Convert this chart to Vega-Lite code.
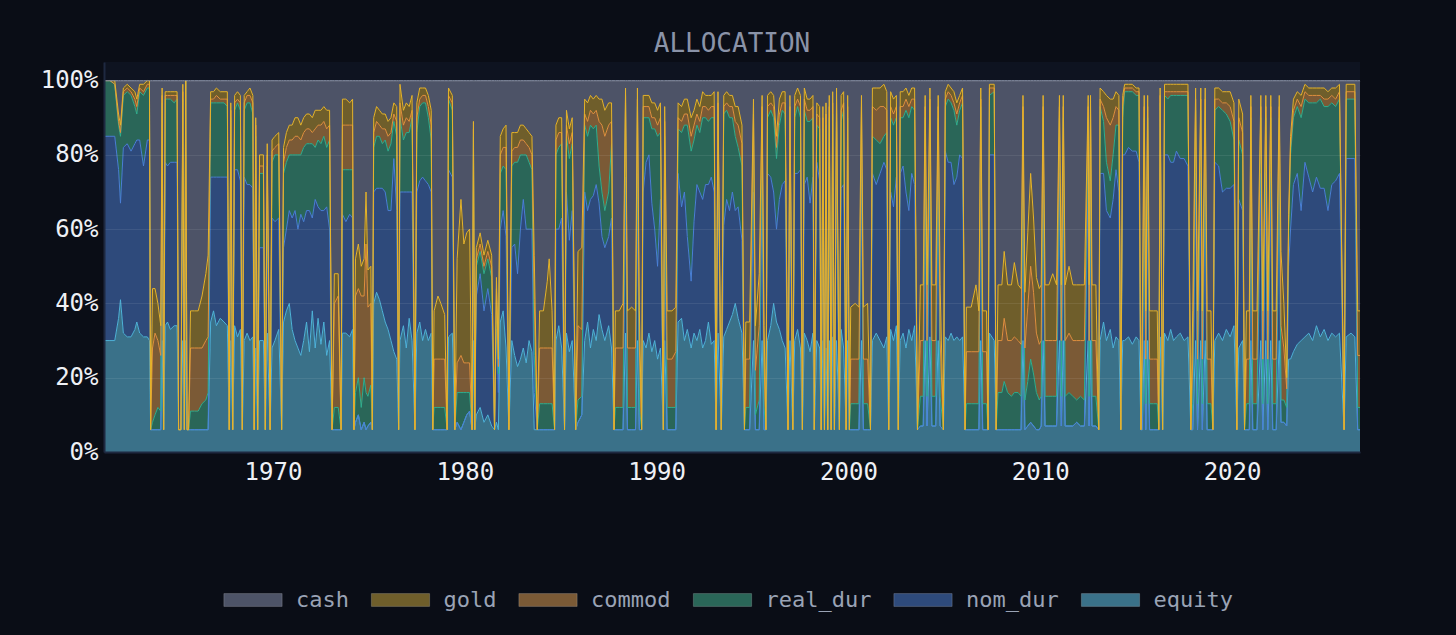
{
  "$schema": "https://vega.github.io/schema/vega-lite/v6.json",
  "width": 1256,
  "height": 390,
  "autosize": {"type": "none"},
  "padding": {"left": 104, "top": 62, "right": 96, "bottom": 183},
  "background": "#0a0d16",
  "title": {"text": "ALLOCATION", "font": "DejaVu Sans Mono", "fontSize": 26, "fontWeight": "normal", "color": "#8a93a8", "offset": 5, "anchor": "middle"},
  "data": {
    "values": "t,equity,nom_dur,real_dur,commod,gold,cash\n1961.2,30,55,15,0,0,0\n1961.5,30,55,15,0,0,0\n1961.75,30,55,14,0,1,0\n1961.95,36,40,12,1,2,9\n1962.05,41,26,18,1,2,12\n1962.2,32,50,14,1,1,2\n1962.4,31,52,14,1,1,1\n1962.6,31,50,15,1,1,2\n1962.8,33,50,10,2,2,3\n1962.9,35,49,7,2,2,5\n1963.05,32,52,13,1,1,1\n1963.25,31,46,19,1,2,1\n1963.45,31,53,14,1,1,0\n1963.56,30,54,14,1,1,0\n1963.62,6,0,0,0,0,94\n1963.72,6,0,2,20,16,56\n1963.85,6,0,4,22,12,56\n1964.0,6,0,6,18,10,60\n1964.15,6,0,5,15,8,66\n1964.22,30,50,14,2,2,2\n1964.3,6,0,0,0,0,94\n1964.38,34,44,17,1,1,3\n1964.5,35,42,18,1,1,3\n1964.65,33,45,17,1,1,3\n1964.85,34,44,16,2,1,3\n1965.0,34,44,17,1,1,3\n1965.08,6,0,0,0,0,94\n1965.2,6,0,0,0,0,94\n1965.3,30,50,15,2,2,1\n1965.38,6,0,0,0,0,94\n1965.45,30,40,30,0,0,0\n1965.52,6,0,0,0,0,94\n1965.6,6,0,0,0,0,94\n1965.7,6,0,5,17,10,62\n1965.9,6,0,5,17,10,62\n1966.1,6,0,5,17,10,62\n1966.3,6,0,7,15,14,58\n1966.5,6,0,8,16,18,52\n1966.62,6,0,10,15,22,47\n1966.75,35,39,20,1,2,3\n1966.9,38,36,20,1,2,3\n1967.05,34,40,20,2,2,2\n1967.25,36,38,20,1,2,3\n1967.45,35,39,20,1,2,3\n1967.62,34,40,19,2,2,3\n1967.72,6,0,0,0,0,94\n1967.8,30,45,15,2,2,6\n1967.9,6,0,0,0,0,94\n1968.0,34,42,16,2,2,4\n1968.15,31,45,18,1,2,3\n1968.3,33,40,19,2,2,4\n1968.4,6,0,0,0,0,94\n1968.5,30,44,18,2,2,4\n1968.65,32,40,22,2,1,3\n1968.8,30,42,22,2,2,2\n1968.95,31,40,20,3,2,4\n1969.02,6,0,0,0,0,94\n1969.1,28,45,12,3,2,10\n1969.2,6,0,0,0,0,94\n1969.3,30,25,20,2,3,20\n1969.5,30,25,20,2,3,20\n1969.6,6,0,0,0,0,94\n1969.7,32,30,15,3,3,17\n1969.85,6,0,0,0,0,94\n1969.95,28,35,15,3,3,16\n1970.1,30,32,18,2,3,15\n1970.3,33,30,17,3,3,14\n1970.45,6,0,0,0,0,94\n1970.55,35,20,20,3,4,18\n1970.7,38,22,18,4,4,14\n1970.85,40,25,15,4,4,12\n1971.0,33,30,17,4,4,12\n1971.15,30,35,15,5,5,10\n1971.3,28,32,20,5,5,10\n1971.45,26,38,16,4,4,12\n1971.6,30,32,20,4,4,10\n1971.75,35,30,18,4,4,9\n1971.9,27,38,18,4,4,9\n1972.05,38,25,20,3,4,10\n1972.2,28,40,14,5,5,8\n1972.35,36,30,18,4,4,8\n1972.5,29,36,18,5,4,8\n1972.65,35,30,20,4,4,7\n1972.8,26,40,16,5,5,8\n1972.95,30,30,24,4,4,8\n1973.08,6,0,0,0,0,94\n1973.2,6,0,6,28,8,52\n1973.4,6,0,6,30,6,52\n1973.55,6,0,0,0,0,94\n1973.62,32,32,12,12,7,5\n1973.8,32,30,14,12,7,5\n1974.0,31,33,12,12,6,6\n1974.15,33,30,13,12,7,5\n1974.22,6,0,0,0,0,94\n1974.3,8,0,8,26,10,48\n1974.45,10,0,10,24,12,44\n1974.6,6,0,6,30,8,50\n1974.75,8,0,12,22,10,48\n1974.85,6,0,10,40,14,30\n1974.95,7,0,8,24,10,51\n1975.1,8,0,10,22,10,50\n1975.18,6,0,0,0,0,94\n1975.25,40,30,12,4,4,10\n1975.4,43,28,14,4,4,7\n1975.55,41,30,14,3,4,8\n1975.7,38,33,12,4,4,9\n1975.85,35,35,14,3,4,9\n1976.0,33,32,16,4,4,11\n1976.15,30,35,18,3,4,10\n1976.3,27,52,10,2,3,6\n1976.45,25,40,20,4,4,7\n1976.55,6,0,0,0,0,94\n1976.62,30,40,20,4,5,1\n1976.8,34,36,14,4,4,8\n1976.95,28,42,16,4,4,6\n1977.1,36,34,16,3,4,7\n1977.25,30,40,20,2,4,4\n1977.4,6,0,0,0,0,94\n1977.5,32,38,16,4,4,6\n1977.65,35,38,20,2,3,2\n1977.8,30,44,20,2,2,2\n1977.95,33,40,21,2,2,2\n1978.1,30,42,18,3,3,4\n1978.25,32,38,14,4,4,8\n1978.33,6,0,0,0,0,94\n1978.4,6,0,6,13,13,62\n1978.6,6,0,6,13,17,58\n1978.75,6,0,6,13,15,60\n1978.95,6,0,6,13,12,63\n1979.08,6,0,0,0,0,94\n1979.15,31,45,19,1,2,2\n1979.35,32,42,18,2,2,4\n1979.48,6,0,0,0,0,94\n1979.6,8,0,8,8,28,48\n1979.8,6,0,10,10,42,32\n1979.95,8,0,8,8,32,44\n1980.1,10,0,6,8,35,41\n1980.25,11,0,5,8,36,40\n1980.38,6,0,0,0,0,94\n1980.45,30,40,15,2,2,11\n1980.52,6,0,0,0,0,94\n1980.6,10,32,8,2,3,45\n1980.8,12,36,6,2,3,41\n1981.0,8,30,10,2,3,47\n1981.2,10,34,8,2,3,43\n1981.4,7,30,10,3,3,47\n1981.55,6,0,0,0,0,94\n1981.65,8,25,8,3,3,53\n1981.75,6,10,5,2,2,75\n1981.85,35,25,15,5,5,15\n1982.0,38,27,12,5,5,13\n1982.15,28,30,18,6,6,12\n1982.3,6,0,0,0,0,94\n1982.45,30,25,22,4,5,14\n1982.6,26,30,22,4,4,14\n1982.75,23,25,30,4,4,14\n1982.9,25,35,20,4,4,12\n1983.05,28,40,12,4,4,12\n1983.2,24,36,20,3,4,13\n1983.35,30,30,18,4,4,14\n1983.5,27,33,16,4,5,15\n1983.62,6,10,10,15,12,47\n1983.78,6,0,0,0,0,94\n1983.9,6,0,7,15,10,62\n1984.1,6,0,7,15,10,62\n1984.3,6,0,7,15,18,54\n1984.4,6,0,7,15,24,48\n1984.55,6,0,7,15,10,62\n1984.68,6,0,0,0,0,94\n1984.75,30,30,20,4,4,12\n1984.9,34,26,22,4,4,10\n1985.05,28,35,20,3,4,10\n1985.2,6,0,0,0,0,94\n1985.3,32,38,15,3,4,8\n1985.45,27,30,22,4,4,13\n1985.6,30,35,18,3,4,10\n1985.78,6,0,0,0,0,94\n1985.9,8,0,6,20,20,46\n1986.1,10,0,5,18,22,45\n1986.25,30,40,18,3,4,5\n1986.4,35,30,20,4,5,6\n1986.55,28,40,20,4,4,4\n1986.7,33,36,18,4,4,5\n1986.85,30,42,16,4,4,4\n1987.0,37,30,10,12,6,5\n1987.15,33,25,12,18,7,5\n1987.3,30,25,10,20,7,8\n1987.5,34,24,12,18,6,6\n1987.65,28,35,20,6,5,6\n1987.78,6,0,0,0,0,94\n1987.85,6,0,6,16,10,62\n1988.05,6,0,6,16,10,62\n1988.25,6,0,6,16,12,60\n1988.38,32,42,20,2,2,2\n1988.48,6,0,6,16,10,62\n1988.7,6,0,6,16,11,61\n1988.9,6,0,6,16,10,62\n1989.0,30,45,18,2,3,2\n1989.1,6,0,6,16,10,62\n1989.22,6,0,0,0,0,94\n1989.3,30,40,20,3,3,4\n1989.45,28,50,12,3,3,4\n1989.6,32,48,10,3,3,4\n1989.75,27,40,20,3,4,6\n1989.9,30,30,27,3,4,6\n1990.05,25,25,35,3,4,8\n1990.2,28,40,18,4,4,6\n1990.35,6,0,0,0,0,94\n1990.42,30,35,20,4,4,7\n1990.55,6,0,6,13,13,62\n1990.8,6,0,6,13,13,62\n1991.0,6,0,6,15,12,61\n1991.12,35,40,12,3,4,6\n1991.3,36,30,20,3,4,7\n1991.45,30,40,18,3,4,5\n1991.6,33,25,30,3,4,5\n1991.8,28,18,35,4,5,10\n1991.95,32,30,22,4,4,8\n1992.1,30,42,16,3,4,5\n1992.25,33,37,16,3,4,7\n1992.4,28,40,22,3,4,3\n1992.55,30,42,18,3,3,4\n1992.7,35,37,17,3,4,4\n1992.85,29,45,16,3,3,4\n1993.0,30,40,20,3,4,3\n1993.1,6,0,0,0,0,94\n1993.2,32,45,15,2,3,3\n1993.37,6,0,0,0,0,94\n1993.5,31,30,30,2,3,4\n1993.65,33,35,24,2,3,3\n1993.8,35,30,25,3,3,4\n1993.95,37,33,20,3,3,4\n1994.1,40,25,20,4,4,7\n1994.25,36,30,16,6,5,7\n1994.45,32,25,20,6,5,12\n1994.58,6,0,0,0,0,94\n1994.65,6,0,6,13,10,65\n1994.85,6,0,6,13,10,65\n1995.05,30,40,18,3,4,5\n1995.15,6,0,4,12,12,66\n1995.35,6,0,8,20,14,52\n1995.5,30,42,18,3,3,4\n1995.6,6,0,6,12,10,66\n1995.7,6,0,0,0,0,94\n1995.78,30,45,15,3,3,4\n1995.95,34,40,18,2,3,3\n1996.1,40,30,20,3,3,4\n1996.25,35,25,19,3,3,15\n1996.4,33,35,20,3,4,5\n1996.55,30,42,20,2,3,3\n1996.7,28,45,18,3,3,3\n1996.85,6,0,0,0,0,94\n1996.95,30,40,20,3,3,4\n1997.1,6,0,0,0,0,94\n1997.2,30,45,15,3,3,4\n1997.35,33,42,18,2,3,2\n1997.5,28,48,14,3,3,4\n1997.6,6,0,0,0,0,94\n1997.7,32,40,20,3,3,2\n1997.85,30,44,15,3,3,5\n1998.0,27,40,22,3,3,5\n1998.15,32,42,16,3,3,4\n1998.22,6,0,0,0,0,94\n1998.35,30,48,10,3,3,6\n1998.5,28,45,14,3,3,7\n1998.58,6,0,0,0,0,94\n1998.67,30,45,12,3,3,7\n1998.75,6,0,0,0,0,94\n1998.83,28,50,10,3,3,6\n1998.92,6,0,0,0,0,94\n1999.0,30,48,12,3,3,4\n1999.1,6,0,0,0,0,94\n1999.18,31,40,20,3,3,3\n1999.27,6,0,0,0,0,94\n1999.38,30,42,20,3,3,2\n1999.53,6,0,0,0,0,94\n1999.62,33,38,18,3,4,4\n1999.75,28,44,20,2,3,3\n1999.88,6,0,0,0,0,94\n1999.96,30,40,20,3,3,4\n2000.05,6,0,0,0,0,94\n2000.12,6,0,7,12,14,61\n2000.35,6,0,7,12,15,60\n2000.55,6,0,7,12,14,61\n2000.68,30,45,15,3,3,4\n2000.78,6,0,7,12,14,61\n2001.0,6,0,7,12,15,60\n2001.15,6,0,0,0,0,94\n2001.25,30,45,10,8,5,2\n2001.45,32,40,12,8,6,2\n2001.65,30,45,8,10,5,2\n2001.85,28,50,7,8,6,1\n2002.0,31,45,10,6,5,3\n2002.1,6,0,0,0,0,94\n2002.2,33,37,20,3,4,3\n2002.35,30,36,22,3,4,5\n2002.5,34,40,16,3,3,4\n2002.6,6,0,0,0,0,94\n2002.7,30,45,15,3,4,3\n2002.85,32,45,13,3,4,3\n2003.0,28,42,22,3,3,2\n2003.15,33,32,25,3,3,4\n2003.3,30,45,18,2,3,2\n2003.45,34,38,20,3,3,2\n2003.6,6,0,0,0,0,94\n2003.75,7,0,8,15,15,55\n2003.9,7,0,8,15,15,55\n2004.0,30,45,15,3,3,4\n2004.1,7,0,8,15,15,55\n2004.25,31,45,17,2,3,2\n2004.35,7,0,8,15,15,55\n2004.55,7,0,8,15,15,55\n2004.68,30,45,15,3,3,4\n2004.78,7,0,8,15,15,55\n2004.95,6,0,0,0,0,94\n2005.05,31,50,12,2,2,3\n2005.2,30,48,17,2,2,1\n2005.35,32,46,16,2,2,2\n2005.5,30,42,20,2,3,3\n2005.65,31,43,14,3,3,6\n2005.8,30,50,12,2,2,4\n2005.95,31,48,15,2,2,2\n2006.08,6,0,0,0,0,94\n2006.15,6,0,7,14,12,61\n2006.4,6,0,7,14,12,61\n2006.65,6,0,7,14,18,55\n2006.8,6,0,7,14,11,62\n2006.9,30,45,18,2,3,2\n2007.0,6,0,7,14,11,62\n2007.2,6,0,7,14,11,62\n2007.28,6,0,0,0,0,94\n2007.35,32,48,16,2,1,1\n2007.6,30,50,17,1,1,1\n2007.7,6,0,0,0,0,94\n2007.8,6,0,10,14,15,55\n2008.0,6,0,10,14,15,55\n2008.12,6,0,13,17,18,46\n2008.3,6,0,10,14,15,55\n2008.5,6,0,9,15,15,55\n2008.65,6,0,10,15,20,49\n2008.85,6,0,10,14,15,55\n2009.0,6,0,9,14,15,56\n2009.1,30,45,15,3,3,4\n2009.2,6,0,8,14,15,57\n2009.35,7,0,12,20,20,41\n2009.5,8,0,17,25,25,25\n2009.65,7,0,14,22,20,37\n2009.8,6,0,10,16,15,53\n2009.95,6,0,8,15,15,56\n2010.05,7,0,8,15,15,55\n2010.15,30,45,15,3,3,4\n2010.25,7,0,8,15,15,55\n2010.45,7,0,8,15,15,55\n2010.65,7,0,8,15,18,52\n2010.85,7,0,8,15,15,55\n2011.0,30,45,15,3,3,4\n2011.1,7,0,8,15,15,55\n2011.2,30,45,15,3,3,4\n2011.3,7,0,8,15,15,55\n2011.5,7,0,9,16,18,50\n2011.7,7,0,8,15,15,55\n2011.9,8,0,6,16,15,55\n2012.1,7,0,8,15,15,55\n2012.3,7,0,7,16,15,55\n2012.5,30,45,15,3,3,4\n2012.55,7,0,8,15,15,55\n2012.62,30,45,15,3,3,4\n2012.7,7,0,8,15,15,55\n2012.9,7,0,8,15,15,55\n2013.05,6,0,0,0,0,94\n2013.12,30,45,18,2,3,2\n2013.3,35,40,14,4,4,3\n2013.45,30,35,13,12,6,4\n2013.65,33,30,10,15,7,5\n2013.8,28,40,12,10,5,5\n2013.95,31,45,12,5,4,3\n2014.1,30,40,18,4,4,4\n2014.2,6,0,0,0,0,94\n2014.3,30,50,10,3,3,4\n2014.4,30,50,17,1,1,1\n2014.6,31,51,15,1,1,1\n2014.8,29,52,16,1,1,1\n2015.0,31,50,15,1,1,2\n2015.15,30,48,18,1,1,2\n2015.25,6,0,0,0,0,94\n2015.32,6,0,7,12,13,62\n2015.42,30,45,15,3,3,4\n2015.5,6,0,7,12,13,62\n2015.6,30,45,15,3,3,4\n2015.7,6,0,7,12,13,62\n2015.9,6,0,7,12,13,62\n2016.1,6,0,7,12,13,62\n2016.18,6,0,0,0,0,94\n2016.25,31,45,18,2,2,2\n2016.38,6,0,0,0,0,94\n2016.48,32,48,16,1,2,1\n2016.65,30,50,15,2,2,1\n2016.8,33,45,18,1,2,1\n2016.95,30,48,18,1,2,1\n2017.1,31,50,15,1,2,1\n2017.3,32,47,17,1,2,1\n2017.5,30,49,17,1,2,1\n2017.7,31,46,19,1,2,1\n2017.85,6,0,0,0,0,94\n2017.95,6,0,7,12,13,62\n2018.1,30,45,17,3,3,2\n2018.2,6,0,7,12,13,62\n2018.37,30,45,17,3,3,2\n2018.45,6,0,7,12,13,62\n2018.6,30,45,17,3,3,2\n2018.7,6,0,7,12,13,62\n2018.9,6,0,7,12,13,62\n2019.0,6,0,0,0,0,94\n2019.1,30,48,14,3,3,2\n2019.3,32,45,16,2,3,2\n2019.5,30,40,22,2,3,3\n2019.7,33,38,20,3,3,3\n2019.9,31,40,18,4,4,3\n2020.1,34,38,12,5,5,6\n2020.25,6,0,0,0,0,94\n2020.35,28,40,16,6,5,5\n2020.55,30,35,15,6,5,9\n2020.65,6,0,0,0,0,94\n2020.75,6,0,7,12,13,62\n2020.9,6,0,7,12,13,62\n2020.98,30,45,15,3,3,4\n2021.08,6,0,7,12,13,62\n2021.3,6,0,7,12,13,62\n2021.5,30,45,15,3,3,4\n2021.6,6,0,7,12,13,62\n2021.76,30,45,15,3,3,4\n2021.86,6,0,7,12,13,62\n2022.02,30,45,15,3,3,4\n2022.12,6,0,7,12,13,62\n2022.3,6,0,7,12,13,62\n2022.46,30,45,15,3,3,4\n2022.55,8,0,6,20,20,46\n2022.7,8,0,6,14,12,60\n2022.85,7,0,5,5,3,80\n2022.95,25,25,10,2,2,36\n2023.05,25,35,20,2,3,15\n2023.2,27,45,18,2,3,5\n2023.4,29,46,18,2,2,3\n2023.6,30,35,25,3,3,4\n2023.8,31,47,17,2,2,1\n2024.0,32,42,20,2,2,2\n2024.2,30,40,24,2,2,2\n2024.4,34,40,20,2,2,2\n2024.6,31,40,24,1,2,2\n2024.8,33,38,22,2,3,2\n2025.0,30,35,28,2,2,3\n2025.2,32,40,22,2,2,2\n2025.4,31,42,20,2,3,2\n2025.6,32,43,20,2,2,1\n2025.84,6,0,0,0,0,94\n2025.95,31,48,16,2,2,1\n2026.2,32,47,16,2,2,1\n2026.4,31,48,16,2,2,1\n2026.55,6,0,6,14,12,62\n2026.67,6,0,6,14,12,62",
    "format": {"type": "csv", "parse": {"t": "number", "equity": "number", "nom_dur": "number", "real_dur": "number", "commod": "number", "gold": "number", "cash": "number"}}
  },
  "transform": [
    {"fold": ["equity", "nom_dur", "real_dur", "commod", "gold", "cash"], "as": ["series", "value"]},
    {"lookup": "series", "from": {"data": {"values": [
      {"series": "equity", "rank": 1},
      {"series": "nom_dur", "rank": 2},
      {"series": "real_dur", "rank": 3},
      {"series": "commod", "rank": 4},
      {"series": "gold", "rank": 5},
      {"series": "cash", "rank": 6}
    ]}, "key": "series", "fields": ["rank"]}}
  ],
  "encoding": {
    "x": {
      "field": "t", "type": "quantitative",
      "scale": {"domain": [1961.19, 2026.67], "nice": false, "zero": false},
      "axis": {"values": [1970, 1980, 1990, 2000, 2010, 2020], "format": "d", "grid": false, "title": null, "labelPadding": 8, "zindex": 1}
    },
    "order": {"field": "rank", "type": "quantitative"}
  },
  "layer": [
    {
      "mark": {"type": "area", "interpolate": "linear"},
      "encoding": {
        "y": {
          "field": "value", "type": "quantitative", "stack": "zero",
          "scale": {"domain": [0, 105], "nice": false},
          "axis": {"values": [0, 20, 40, 60, 80, 100], "labelExpr": "datum.value + '%'", "grid": true, "title": null, "labelPadding": 6, "zindex": 1}
        },
        "color": {
          "field": "series", "type": "nominal",
          "sort": ["cash", "gold", "commod", "real_dur", "nom_dur", "equity"],
          "scale": {
            "domain": ["cash", "gold", "commod", "real_dur", "nom_dur", "equity"],
            "range": ["#4d5367", "#6f5e2b", "#7b5a36", "#2a6658", "#2e4a7b", "#3a7189"]
          },
          "legend": {
            "orient": "none", "legendX": 119, "legendY": 508, "direction": "horizontal",
            "title": null, "symbolType": "M-1,-0.22H1V0.22H-1Z", "symbolSize": 3400,
            "symbolStrokeWidth": 1, "symbolStrokeColor": "rgba(255,255,255,0.18)", "symbolOpacity": 1,
            "labelFont": "DejaVu Sans Mono", "labelFontSize": 22, "labelColor": "#9aa3b5",
            "labelOffset": 13, "columnPadding": 19.5, "padding": 0
          }
        }
      }
    },
    {
      "mark": {"type": "line", "strokeWidth": 1, "interpolate": "linear"},
      "encoding": {
        "y": {"field": "value", "type": "quantitative", "stack": "zero"},
        "color": {
          "field": "series", "type": "nominal",
          "sort": ["cash", "gold", "commod", "real_dur", "nom_dur", "equity"],
          "scale": {
            "domain": ["cash", "gold", "commod", "real_dur", "nom_dur", "equity"],
            "range": ["#7c8498", "#e6b42a", "#e0903f", "#2fae8e", "#4a7fd6", "#4fb3d9"]
          },
          "legend": null
        }
      }
    }
  ],
  "resolve": {"scale": {"color": "independent"}},
  "config": {
    "view": {"fill": "#0e1320", "stroke": null},
    "axis": {
      "labelFont": "DejaVu Sans Mono", "labelFontSize": 24, "labelColor": "#eef0f5",
      "ticks": false, "domainColor": "#1e2940", "domainWidth": 2,
      "gridColor": "#ffffff", "gridOpacity": 0.08
    }
  }
}
